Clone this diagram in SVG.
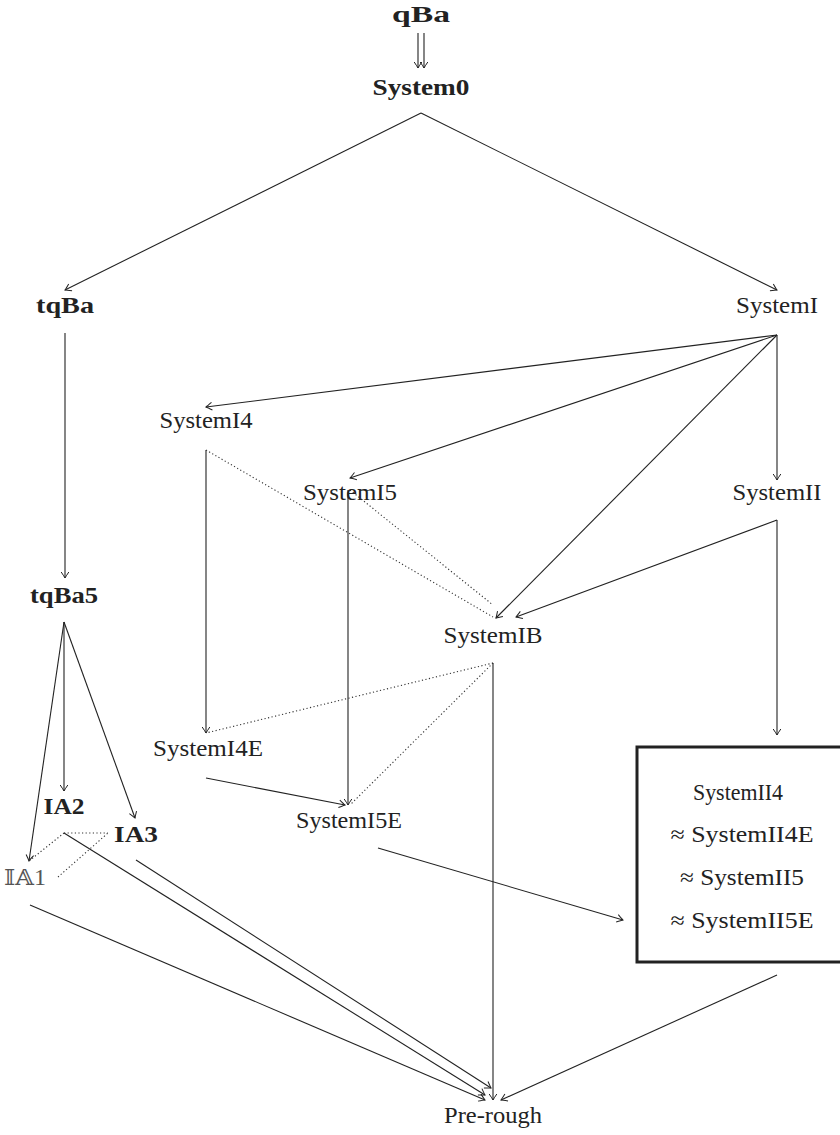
<svg xmlns="http://www.w3.org/2000/svg" width="840" height="1135" viewBox="0 0 840 1135">
<style>
text{font-family:"Liberation Serif","DejaVu Serif",serif;font-size:23px;fill:#222;text-anchor:middle}
.b{font-weight:bold}
.e{stroke:#222;stroke-width:1.1;fill:none;marker-end:url(#ar)}
.d{stroke:#333;stroke-width:1.1;fill:none;stroke-dasharray:1.2 2.4}
</style>
<defs>
<marker id="ar" viewBox="-8 -5 9 10" refX="0" refY="0" markerWidth="9" markerHeight="10" markerUnits="userSpaceOnUse" orient="auto">
<path d="M-6,-3.8 Q-1.5,-0.8 0,0 Q-1.5,0.8 -6,3.8" fill="none" stroke="#222" stroke-width="1"/>
</marker>
</defs>
<rect width="840" height="1135" fill="#fff"/>
<g id="connectors">
<path class="e" d="M418,33 L418,68"/>
<path class="e" d="M424,33 L424,68"/>
<path class="e" d="M421,113 L65,290"/>
<path class="e" d="M421,113 L777,290"/>
<path class="e" d="M65,333 L65,578"/>
<path class="e" d="M777,335 L206,407"/>
<path class="e" d="M777,335 L350,478"/>
<path class="e" d="M777,335 L777,480"/>
<path class="e" d="M777,335 L496,618"/>
<path class="e" d="M777,520 L516,617"/>
<path class="e" d="M777,520 L777,735"/>
<path class="e" d="M206,450 L206,733"/>
<path class="e" d="M348,490 L348,805"/>
<path class="e" d="M206,778 L345,805"/>
<path class="e" d="M493,663 L493,1100"/>
<path class="e" d="M378,848 L623,920"/>
<path class="e" d="M777,975 L501,1100"/>
<path class="e" d="M64,622 L64,791"/>
<path class="e" d="M64,622 L135,818"/>
<path class="e" d="M64,622 L29,861"/>
<path class="e" d="M136,860 L491,1088"/>
<path class="e" d="M64,833 L485,1095"/>
<path class="e" d="M30,905 L485,1100"/>
<path class="d" d="M206,450 L493,617"/>
<path class="d" d="M350,490 L493,605"/>
<path class="d" d="M493,663 L206,733"/>
<path class="d" d="M493,663 L350,805"/>
<path class="d" d="M64,833 L108,833"/>
<path class="d" d="M64,833 L29,861"/>
<path class="d" d="M58,877 L108,833"/>
</g>
<g id="qBa"><text class="b" x="421" y="22" textLength="58" lengthAdjust="spacingAndGlyphs">qBa</text></g>
<g id="System0"><text class="b" x="421" y="95" textLength="97" lengthAdjust="spacingAndGlyphs">System0</text></g>
<g id="tqBa"><text class="b" x="65" y="313" textLength="58" lengthAdjust="spacingAndGlyphs">tqBa</text></g>
<g id="SystemI"><text x="777" y="313" textLength="82" lengthAdjust="spacingAndGlyphs">SystemI</text></g>
<g id="SystemI4"><text x="206" y="428" textLength="93" lengthAdjust="spacingAndGlyphs">SystemI4</text></g>
<g id="SystemI5"><text x="350" y="500" textLength="94" lengthAdjust="spacingAndGlyphs">SystemI5</text></g>
<g id="SystemII"><text x="777" y="500" textLength="89" lengthAdjust="spacingAndGlyphs">SystemII</text></g>
<g id="tqBa5"><text class="b" x="64" y="603" textLength="68" lengthAdjust="spacingAndGlyphs">tqBa5</text></g>
<g id="SystemIB"><text x="493" y="643" textLength="99" lengthAdjust="spacingAndGlyphs">SystemIB</text></g>
<g id="SystemI4E"><text x="208" y="756" textLength="110" lengthAdjust="spacingAndGlyphs">SystemI4E</text></g>
<g id="IA2"><text class="b" x="64" y="814" textLength="41" lengthAdjust="spacingAndGlyphs">IA2</text></g>
<g id="IA3"><text class="b" x="136" y="842" textLength="44" lengthAdjust="spacingAndGlyphs">IA3</text></g>
<g id="SystemI5E"><text x="349" y="828" textLength="106" lengthAdjust="spacingAndGlyphs">SystemI5E</text></g>
<g id="IA1"><text x="25" y="885" textLength="42" lengthAdjust="spacingAndGlyphs" style="fill:#555">𝕀𝔸1</text></g>
<g id="Pre-rough"><text x="493" y="1123" textLength="98" lengthAdjust="spacingAndGlyphs">Pre-rough</text></g>
<g id="SystemII4-box">
<rect x="637" y="747" width="215" height="215" fill="none" stroke="#222" stroke-width="3"/>
<text x="738" y="800" textLength="90" lengthAdjust="spacingAndGlyphs">SystemII4</text>
<text x="742" y="842" textLength="143" lengthAdjust="spacingAndGlyphs">≈ SystemII4E</text>
<text x="742" y="885" textLength="124" lengthAdjust="spacingAndGlyphs">≈ SystemII5</text>
<text x="742" y="928" textLength="143" lengthAdjust="spacingAndGlyphs">≈ SystemII5E</text>
</g>
</svg>
